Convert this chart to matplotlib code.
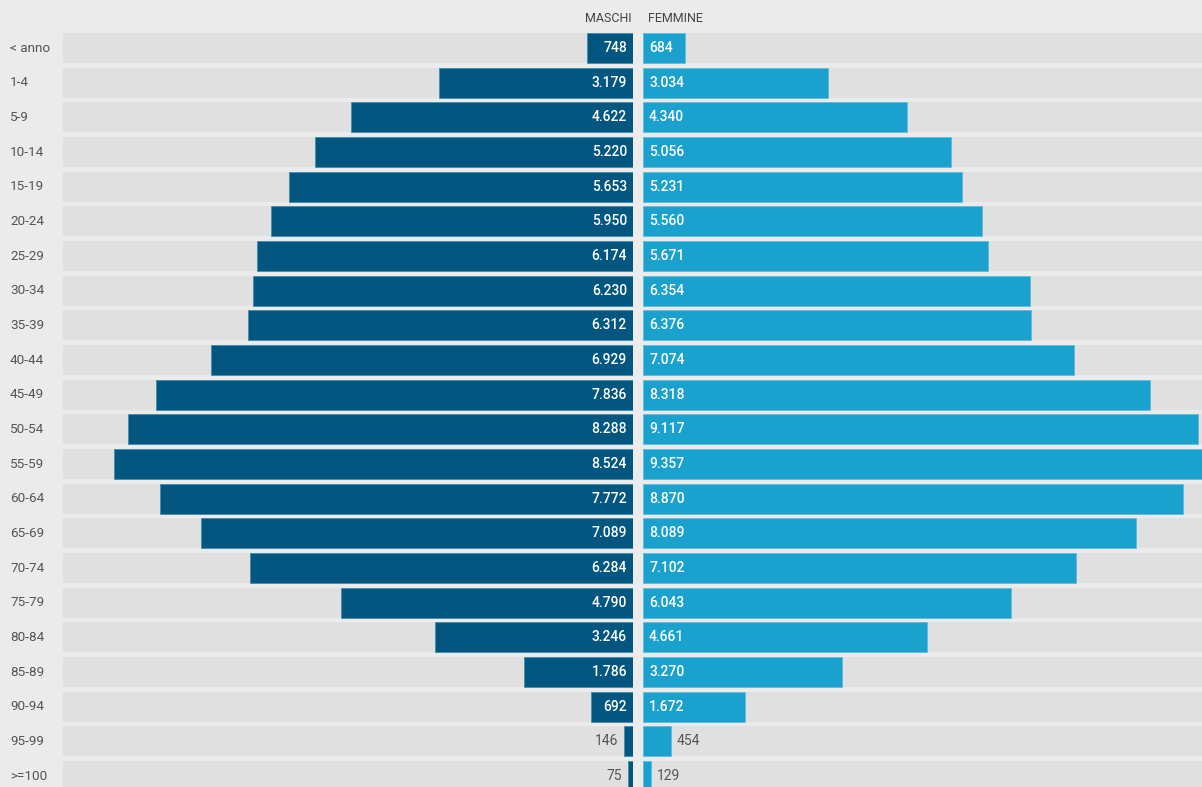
import matplotlib.pyplot as plt
import numpy as np

plt.rcParams['font.family'] = ['Roboto', 'DejaVu Sans']

# dati
classi = ['< anno', '1-4', '5-9', '10-14', '15-19', '20-24', '25-29', '30-34',
          '35-39', '40-44', '45-49', '50-54', '55-59', '60-64', '65-69',
          '70-74', '75-79', '80-84', '85-89', '90-94', '95-99', '>=100']
maschi = [748, 3179, 4622, 5220, 5653, 5950, 6174, 6230, 6312, 6929, 7836,
          8288, 8524, 7772, 7089, 6284, 4790, 3246, 1786, 692, 146, 75]
femmine = [684, 3034, 4340, 5056, 5231, 5560, 5671, 6354, 6376, 7074, 8318,
           9117, 9357, 8870, 8089, 7102, 6043, 4661, 3270, 1672, 454, 129]

col_m = '#02567f'
col_f = '#1aa1cd'
col_bg = '#ebebeb'
col_band = '#e0e0e0'
col_txt = '#555555'

W, H = 1202, 787
fig = plt.figure(figsize=(W / 100, H / 100), dpi=100, facecolor=col_bg)

vmax = max(max(maschi), max(femmine))
n = len(classi)
pitch = 34.67
y0 = 48  # centro della prima riga (px)
y_top = -y0 / pitch
y_bot = (H - y0) / pitch
bh = 30 / pitch

# assi: sinistra (maschi) e destra (femmine)
ax_m = fig.add_axes([63 / W, 0, 570 / W, 1])
ax_f = fig.add_axes([643 / W, 0, 570 / W, 1])

y = np.arange(n)
for ax, vals, col, edge, sgn in [(ax_m, maschi, col_m, '#3d8fb0', -1),
                                 (ax_f, femmine, col_f, '#5bbde0', 1)]:
    ax.set_facecolor('none')
    ax.barh(y, [vmax] * n, height=bh, color=col_band, linewidth=0)
    ax.barh(y, vals, height=bh, color=col, edgecolor=edge, linewidth=0.6)
    ax.set_xlim(0, vmax)
    ax.set_ylim(y_bot, y_top)
    ax.axis('off')
    ha = 'right' if sgn < 0 else 'left'
    for i, v in enumerate(vals):
        lab = f'{v:,}'.replace(',', '.')
        if v >= 600:
            # etichetta dentro la barra
            ax.annotate(lab, (0, i), xytext=(6 * sgn, 0), textcoords='offset pixels',
                        ha=ha, va='center', color='white',
                        fontsize=10, fontweight='medium')
        else:
            ax.annotate(lab, (v, i), xytext=(6 * sgn, 0), textcoords='offset pixels',
                        ha=ha, va='center', color=col_txt, fontsize=10)

ax_m.invert_xaxis()

# etichette classi d'età
for i, c in enumerate(classi):
    ax_m.annotate(c, (vmax, i), xytext=(-53, 0), textcoords='offset pixels',
                  ha='left', va='center', color=col_txt, fontsize=9.7)

# intestazioni
fig.text(632 / W, 1 - 19 / H, 'MASCHI', ha='right', va='center', color='#444444', fontsize=9)
fig.text(648 / W, 1 - 19 / H, 'FEMMINE', ha='left', va='center', color='#444444', fontsize=9)

fig.savefig('out.png', dpi=100, facecolor=col_bg)
